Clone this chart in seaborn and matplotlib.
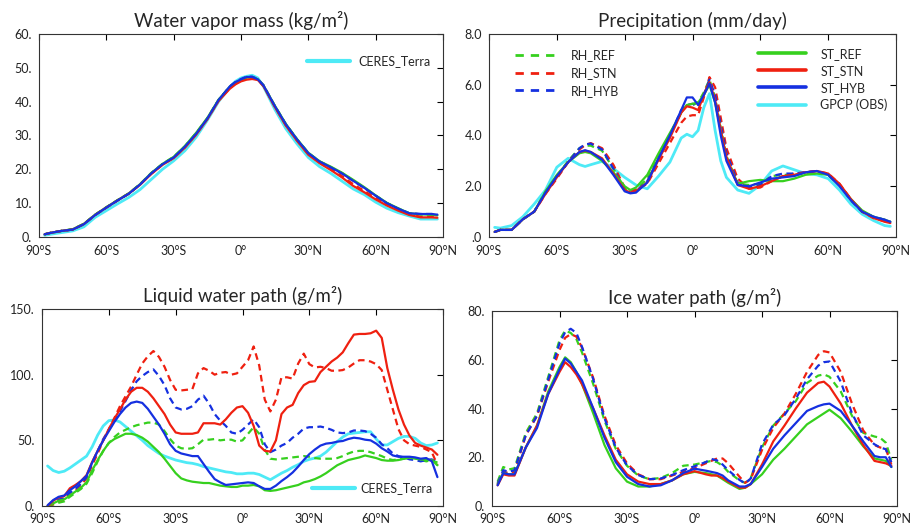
import matplotlib
matplotlib.use("Agg")
import matplotlib.pyplot as plt
from matplotlib.lines import Line2D
import seaborn as sns

sns.set_style("white")
plt.rcParams['font.family'] = ['Lato', 'DejaVu Sans']

GREEN = "#36d01e"
RED = "#ef2010"
BLUE = "#1530e0"
CYAN = "#4eeaf6"

# ---------------- water vapor mass (kg/m2) ----------------
lat_wv = [-87.5, -85, -80, -75, -70, -65, -60, -55, -50, -45, -40, -35, -30, -25, -20, -15, -10, -5, -2.5, 0,
          2.5, 5, 7.5, 10, 15, 20, 25, 30, 35, 40, 45, 50, 55, 60, 65, 70, 75, 80, 85, 87.5]
wv_st_ref = [0.8, 1.2, 1.8, 2.3, 3.9, 6.6, 8.8, 10.9, 12.9, 15.6, 18.9, 21.6, 23.7, 26.9, 30.8, 35.2, 40.6, 44.4, 45.6, 46.4,
             47.1, 47.2, 46.6, 44.8, 38.9, 33.4, 28.9, 24.9, 22.4, 20.8, 19.0, 16.9, 14.7, 12.3, 10.1, 8.5, 7.0, 6.7, 6.6, 6.4]
wv_st_stn = [0.8, 1.2, 1.8, 2.2, 3.8, 6.5, 8.7, 10.8, 12.8, 15.4, 18.6, 21.3, 23.3, 26.4, 30.2, 34.8, 40.2, 43.8, 45.1, 46.0,
             46.5, 46.7, 46.4, 44.6, 38.5, 32.9, 28.4, 24.3, 21.8, 19.8, 17.6, 15.1, 13.2, 11.1, 9.3, 7.8, 6.5, 5.8, 5.8, 5.7]
wv_st_hyb = [0.8, 1.2, 1.8, 2.2, 3.8, 6.5, 8.7, 10.8, 12.8, 15.5, 18.8, 21.5, 23.5, 26.7, 30.5, 35.0, 40.5, 44.5, 45.8, 46.6,
             47.3, 47.3, 46.6, 44.8, 38.8, 33.3, 28.8, 24.8, 22.3, 20.6, 18.8, 16.6, 14.5, 12.2, 10.0, 8.4, 7.0, 6.8, 6.8, 6.6]
wv_rh_ref = [0.8, 1.2, 1.8, 2.3, 3.9, 6.6, 8.8, 10.9, 12.9, 15.6, 18.9, 21.6, 23.7, 26.8, 30.7, 35.1, 40.5, 44.4, 45.7, 46.5,
             47.2, 47.2, 46.6, 44.8, 38.8, 33.3, 28.8, 24.8, 22.3, 20.6, 18.9, 16.7, 14.5, 12.2, 10.0, 8.4, 7.0, 6.7, 6.6, 6.4]
wv_rh_stn = [0.8, 1.2, 1.8, 2.2, 3.8, 6.5, 8.7, 10.8, 12.8, 15.5, 18.7, 21.4, 23.4, 26.5, 30.4, 34.9, 40.3, 44.0, 45.3, 46.2,
             46.8, 47.0, 46.5, 44.7, 38.6, 33.0, 28.5, 24.5, 22.0, 20.1, 18.0, 15.6, 13.6, 11.5, 9.6, 8.0, 6.7, 6.0, 6.0, 5.9]
wv_rh_hyb = [0.8, 1.2, 1.8, 2.2, 3.8, 6.5, 8.7, 10.8, 12.8, 15.5, 18.8, 21.5, 23.5, 26.7, 30.5, 35.0, 40.5, 44.5, 45.8, 46.7,
             47.4, 47.4, 46.7, 44.9, 38.8, 33.3, 28.8, 24.8, 22.3, 20.6, 18.8, 16.6, 14.5, 12.2, 10.0, 8.4, 7.0, 6.8, 6.8, 6.6]
wv_obs = [0.5, 0.8, 1.3, 1.8, 3.0, 5.8, 7.8, 9.8, 11.7, 14.0, 17.0, 20.0, 22.5, 25.5, 29.5, 34.5, 40.0, 44.3, 46.0, 47.0,
          47.5, 47.8, 47.0, 44.5, 37.8, 32.0, 27.5, 23.5, 20.8, 18.8, 16.5, 14.2, 12.5, 10.3, 8.5, 7.2, 6.2, 5.3, 5.3, 5.3]

# ---------------- precipitation (mm/day) ----------------
lat_pr = [-87.5, -85, -80, -75, -70, -65, -60, -55, -50, -47.5, -45, -40, -35, -30, -27.5, -25, -20, -15, -10, -5, -2.5,
          0, 2.5, 5, 7.5, 10, 12.5, 15, 20, 25, 30, 35, 40, 45, 50, 55, 60, 65, 70, 75, 80, 85, 87.5]
pr_st_ref = [0.2, 0.28, 0.28, 0.7, 1.0, 1.8, 2.45, 2.95, 3.3, 3.35, 3.3, 3.0, 2.55, 2.0, 1.85, 1.95, 2.45, 3.3, 4.1, 4.9, 5.2,
             5.25, 5.3, 5.6, 6.0, 5.3, 4.2, 3.1, 2.1, 2.2, 2.25, 2.2, 2.2, 2.3, 2.45, 2.5, 2.45, 2.05, 1.5, 1.05, 0.8, 0.68, 0.6]
pr_st_stn = [0.2, 0.28, 0.28, 0.7, 1.0, 1.7, 2.35, 2.95, 3.35, 3.4, 3.35, 3.1, 2.5, 1.85, 1.75, 1.8, 2.15, 3.05, 3.9, 4.9, 5.15,
             5.1, 5.0, 5.6, 6.1, 5.4, 4.2, 3.15, 2.05, 1.9, 2.0, 2.2, 2.4, 2.45, 2.55, 2.6, 2.5, 2.1, 1.5, 1.0, 0.75, 0.6, 0.55]
pr_st_hyb = [0.2, 0.28, 0.28, 0.7, 1.0, 1.75, 2.4, 2.95, 3.35, 3.42, 3.35, 3.05, 2.45, 1.8, 1.72, 1.75, 2.15, 3.1, 4.0, 5.0, 5.5,
             5.5, 5.2, 5.6, 6.05, 5.3, 4.0, 3.0, 2.05, 2.0, 2.15, 2.3, 2.35, 2.4, 2.55, 2.6, 2.45, 2.0, 1.45, 1.0, 0.8, 0.68, 0.6]
pr_rh_ref = [0.2, 0.28, 0.28, 0.7, 1.0, 1.8, 2.4, 3.0, 3.5, 3.6, 3.6, 3.4, 2.7, 1.9, 1.8, 1.85, 2.3, 3.2, 4.0, 4.9, 5.2,
             5.2, 5.3, 5.7, 6.2, 5.5, 4.3, 3.2, 2.1, 2.05, 2.1, 2.4, 2.45, 2.45, 2.5, 2.55, 2.45, 2.05, 1.45, 1.0, 0.78, 0.66, 0.58]
pr_rh_stn = [0.2, 0.28, 0.28, 0.7, 1.0, 1.7, 2.3, 2.95, 3.45, 3.62, 3.7, 3.5, 2.85, 1.95, 1.85, 1.85, 2.1, 2.9, 3.7, 4.5, 4.75,
             4.8, 4.8, 5.5, 6.3, 5.9, 4.7, 3.5, 2.3, 1.9, 1.95, 2.2, 2.4, 2.5, 2.55, 2.6, 2.5, 2.1, 1.5, 1.0, 0.75, 0.62, 0.55]
pr_rh_hyb = [0.2, 0.28, 0.28, 0.7, 1.0, 1.75, 2.35, 2.95, 3.5, 3.65, 3.68, 3.45, 2.7, 1.85, 1.75, 1.8, 2.2, 3.1, 4.0, 5.0, 5.2,
             5.25, 5.15, 5.6, 6.2, 5.6, 4.4, 3.3, 2.15, 1.95, 2.05, 2.4, 2.5, 2.5, 2.55, 2.6, 2.45, 2.05, 1.45, 1.0, 0.8, 0.68, 0.6]
pr_obs = [0.38, 0.35, 0.45, 0.8, 1.3, 1.85, 2.75, 3.1, 2.85, 2.78, 2.85, 2.98, 2.7, 2.35, 2.2, 2.05, 1.9, 2.4, 2.95, 3.9, 4.05,
          3.95, 4.2, 5.1, 5.65, 4.2, 3.0, 2.35, 1.85, 1.72, 2.05, 2.6, 2.8, 2.65, 2.5, 2.45, 2.3, 1.85, 1.3, 0.9, 0.65, 0.45, 0.42]

# ---------------- liquid water path (g/m2) ----------------
lat_lwp = [-87.5, -85, -82.5, -80, -77.5, -75, -72.5, -70, -67.5, -65, -62.5, -60, -57.5, -55, -52.5, -50, -47.5, -45,
           -42.5, -40, -37.5, -35, -32.5, -30, -27.5, -25, -22.5, -20, -17.5, -15, -12.5, -10, -7.5, -5, -2.5, 0,
           2.5, 5, 7.5, 10, 12.5, 15, 17.5, 20, 22.5, 25, 27.5, 30, 32.5, 35, 37.5, 40, 42.5, 45,
           47.5, 50, 52.5, 55, 57.5, 60, 62.5, 65, 67.5, 70, 72.5, 75, 77.5, 80, 82.5, 85, 87.5]
lwp_st_ref = [0, 2, 4, 5, 8, 11, 14, 18, 27, 35, 42, 48, 51, 53, 55, 55, 54, 52,
              49, 45, 41, 36, 30.5, 25, 21, 19.5, 18.5, 18, 17.5, 17.5, 16.5, 15.5, 15, 14.5, 14.5, 15.5,
              15.5, 16, 15, 12, 11.5, 12, 13, 14, 15, 16, 18, 19, 20.5, 22.5, 25, 28, 31, 33,
              35, 36, 37, 38.5, 37.5, 36.5, 35, 34.5, 34.5, 35, 36, 37, 36, 35.5, 35, 35, 31]
lwp_st_stn = [0, 4, 6.5, 7.5, 13.5, 16, 19, 23.5, 33.5, 42, 50, 58.5, 66.5, 73.5, 81, 87, 90, 90,
              87, 82, 76, 70, 62, 56, 55, 55, 55, 56, 63, 63, 63, 62, 66, 71, 75, 76,
              71, 61, 46, 42, 41.5, 50, 70, 75, 77, 86, 92, 94.5, 95, 102, 106, 110, 113, 117,
              124, 130.5, 131, 131, 131.5, 133.5, 128, 105, 88.5, 73.5, 62, 53.5, 48, 46, 44.5, 43, 39]
lwp_st_hyb = [0.5, 4.5, 7, 8, 12, 15, 19, 23, 33, 42, 50, 57, 64, 70, 75, 78.5, 79.5, 78.5,
              74, 68, 62, 55, 47, 42, 40, 39, 38, 38, 32, 26, 20.5, 18, 16, 16.5, 17, 17.5,
              18, 17.5, 15, 13, 13, 15.5, 19, 22, 25.5, 30, 35, 39.5, 43, 46, 47.5, 48, 49, 49.5,
              51, 52, 51.5, 50.5, 50, 47.5, 44, 41.5, 38.5, 37.5, 37.5, 37.5, 37, 36, 36.5, 34, 22]
lwp_rh_ref = [0, 1, 2.5, 3.5, 7, 10, 13, 17, 25, 34, 42, 48, 52.5, 56, 58, 60, 61.5, 62.5,
              63.5, 63.5, 62, 57, 51, 46, 44, 43.5, 44, 47, 50.5, 50.5, 51, 50, 50.5, 50.5, 49, 50,
              55, 60, 55, 43, 36, 35.5, 36, 36.5, 37, 37.5, 38, 37.5, 36.5, 36, 36, 36, 36.5, 38,
              40, 41.5, 42, 42, 41, 39.5, 38, 36, 35, 35.5, 36, 37, 36.5, 35, 34, 35, 33]
lwp_rh_stn = [0, 1.5, 4, 5, 10, 12, 16, 21, 31, 40, 50, 58.5, 67, 76, 83.5, 91, 100, 108.5,
              114, 118, 113.5, 106, 96, 88.5, 88, 88.5, 89, 101, 105, 103, 100, 101.5, 102, 100, 101, 106,
              111, 121.5, 107, 81, 72, 81, 98, 98, 97, 108.5, 116, 108, 105.5, 106, 105, 103, 103, 103.5,
              105.5, 108.5, 111, 111, 110, 108, 103.5, 88.5, 73.5, 58.5, 50, 47, 46, 45, 43, 41, 31]
lwp_rh_hyb = [0.5, 3, 5, 6, 10, 13, 17, 22, 33, 42, 51, 58, 65, 72, 80, 88, 95, 99,
              102, 104, 99, 92, 82, 75, 73.5, 74, 76, 81, 84, 78, 70, 65, 61, 56, 55, 58,
              62, 66, 60, 47, 41, 43, 46, 48, 52, 55, 59, 60, 60, 60.5, 59.5, 58, 56, 55.5,
              56, 57.5, 57.5, 57, 55, 52, 47, 44, 40, 38, 37, 35.5, 35, 34, 35, 35.5, 32]
lwp_obs = [30.5, 27, 25.5, 26.5, 29, 32, 35, 38, 45, 54, 61, 65, 65.5, 64, 60.5, 57, 53.5, 50,
           46, 43, 40, 38, 36.5, 35, 34, 33, 32.5, 31.5, 30, 29, 28, 27, 26, 25.5, 24.5, 24.5,
           25, 25, 24, 22, 20, 22.5, 25, 27, 29.5, 31.5, 34, 35.5, 36.5, 38, 41, 45, 49, 52.5,
           55, 55.5, 56, 56.5, 56.5, 51, 46.5, 46.5, 49, 51.5, 53, 53, 51.5, 48, 46, 46.5, 48]

# ---------------- ice water path (g/m2) ----------------
lat_iwp = [-87.5, -85, -82.5, -80, -75, -70, -65, -60, -57.5, -55, -52.5, -50, -45, -40, -35, -30, -25, -20, -15,
           -10, -5, 0, 5, 7.5, 10, 12.5, 15, 20, 22.5, 25, 30, 35, 40, 45, 50, 55, 57.5, 60, 65, 70, 75, 80,
           82.5, 85, 87.5]
iwp_st_ref = [9, 13.5, 13, 13, 24, 33, 47, 57, 61, 59, 55, 50, 38, 25, 15.5, 10, 8, 8, 9,
              10.5, 13, 14, 13.5, 13, 12.5, 11, 9.5, 7, 7.5, 9, 13, 19, 23.5, 28.5, 33.5, 36.5, 38, 39.5, 36, 30.5, 24.5, 19.5,
              19, 18.5, 16]
iwp_st_stn = [8.5, 13, 12.5, 12.5, 24, 33, 46, 55, 59, 57, 54, 50, 40, 29, 19, 13, 10, 9, 9,
              10.5, 13, 14.3, 13, 12.5, 12.5, 11.5, 10, 7.5, 7.5, 9, 17, 26.5, 33, 40, 46.5, 50.5, 51, 49, 42, 33, 25, 18.5,
              18, 17.5, 16.5]
iwp_st_hyb = [8.5, 13.5, 13, 13, 24, 32, 46, 56, 60.5, 58.5, 55, 51.5, 40, 28, 18, 12, 9, 8, 8.5,
              10.5, 13.5, 15.3, 14.5, 14, 13.5, 12.5, 10.5, 8, 8, 9, 16, 23.5, 29, 34, 39, 41, 41.7, 42, 39, 33, 26.5, 20.5,
              20, 20, 16]
iwp_rh_ref = [10, 16, 15, 15.5, 30, 38, 53, 68, 72, 71, 68.5, 63, 50, 35, 23.5, 16.5, 12.5, 11, 11.5,
              13.5, 16.5, 17, 18, 18.5, 18, 16.5, 14, 10.5, 9.5, 11.5, 24, 33, 38, 43, 50.5, 53.5, 54, 53, 47, 37, 30, 28.5,
              28, 26, 19]
iwp_rh_stn = [9, 14, 13.5, 14, 29, 37, 51, 64, 69, 70.5, 69.5, 65, 52.5, 37, 25, 17.5, 13, 11, 11,
              12.5, 14, 15.5, 17.5, 18.5, 19.5, 19.5, 17.5, 12, 9.5, 11, 23, 32, 38, 46, 55, 62, 63.5, 63, 55, 42, 31, 25,
              24, 23.5, 17]
iwp_rh_hyb = [9.3, 14.7, 14, 14.7, 29, 37, 52, 66.7, 71.3, 72.7, 71, 65.3, 52, 36, 24, 16.7, 12.7, 11, 11.3,
              12.7, 14.7, 16.3, 18, 19.3, 18.7, 17, 14.7, 10.7, 9.3, 11.3, 25.3, 33.3, 37.3, 44, 52, 57.6, 59, 59.3, 51, 38, 29, 25.3,
              24, 23.3, 18]

xticks = [-90, -60, -30, 0, 30, 60, 90]
xlabels = ["90°S", "60°S", "30°S", "0°", "30°N", "60°N", "90°N"]

DASH = (0, (3, 2))
LW = 1.6


def draw_models(ax, lat, rh_ref, rh_stn, rh_hyb, st_ref, st_stn, st_hyb):
    sns.lineplot(x=lat, y=rh_ref, ax=ax, color=GREEN, lw=LW, linestyle=DASH)
    sns.lineplot(x=lat, y=rh_stn, ax=ax, color=RED, lw=LW, linestyle=DASH)
    sns.lineplot(x=lat, y=rh_hyb, ax=ax, color=BLUE, lw=LW, linestyle=DASH)
    sns.lineplot(x=lat, y=st_ref, ax=ax, color=GREEN, lw=LW)
    sns.lineplot(x=lat, y=st_stn, ax=ax, color=RED, lw=LW)
    sns.lineplot(x=lat, y=st_hyb, ax=ax, color=BLUE, lw=LW)


def style(ax, title, ymax, ystep, ylabels, xpad=6):
    ax.set_xlim(-90, 90)
    ax.set_ylim(0, ymax)
    ax.set_xticks(xticks)
    ax.set_xticklabels(xlabels)
    yt = [i * ystep for i in range(len(ylabels))]
    ax.set_yticks(yt)
    ax.set_yticklabels(ylabels)
    ax.tick_params(direction='in', length=4, width=0.8, top=True, right=True,
                   labelsize=9, pad=5, colors='black', labelcolor='#222222')
    ax.tick_params(axis='x', pad=xpad)
    for s in ax.spines.values():
        s.set_linewidth(0.8)
        s.set_color('#333333')
    ax.set_title(title, fontsize=13.5, pad=5)
    ax.set_xlabel("")
    ax.set_ylabel("")


fig = plt.figure(figsize=(9.14, 5.27), dpi=100)
ax1 = fig.add_axes([39 / 914, 1 - 237 / 527, 404 / 914, 203 / 527])
ax2 = fig.add_axes([489 / 914, 1 - 237 / 527, 407 / 914, 203 / 527])
ax3 = fig.add_axes([42 / 914, 1 - 506 / 527, 401 / 914, 197 / 527])
ax4 = fig.add_axes([492 / 914, 1 - 506 / 527, 405 / 914, 195 / 527])

# water vapor
sns.lineplot(x=lat_wv, y=wv_obs, ax=ax1, color=CYAN, lw=2.0)
draw_models(ax1, lat_wv, wv_rh_ref, wv_rh_stn, wv_rh_hyb, wv_st_ref, wv_st_stn, wv_st_hyb)
style(ax1, "Water vapor mass (kg/m²)", 60, 10, ["0.", "10.", "20.", "30.", "40.", "50.", "60."])
ax1.legend(handles=[Line2D([], [], color=CYAN, lw=3)], labels=["CERES_Terra"],
           loc='center left', bbox_to_anchor=((307 - 39) / 404, 1 - (61 - 34) / 203),
           frameon=False, fontsize=9, handlelength=3.4, handletextpad=0.7,
           borderpad=0, borderaxespad=0)

# precipitation
sns.lineplot(x=lat_pr, y=pr_obs, ax=ax2, color=CYAN, lw=2.0)
draw_models(ax2, lat_pr, pr_rh_ref, pr_rh_stn, pr_rh_hyb, pr_st_ref, pr_st_stn, pr_st_hyb)
style(ax2, "Precipitation (mm/day)", 8, 2, [".0", "2.0", "4.0", "6.0", "8.0"])
leg_rh = ax2.legend(handles=[Line2D([], [], color=c, lw=2, linestyle=(0, (3, 2.5))) for c in (GREEN, RED, BLUE)],
                    labels=["RH_REF", "RH_STN", "RH_HYB"],
                    loc='center left', bbox_to_anchor=((515 - 489) / 407, 1 - (73 - 34) / 203),
                    frameon=False, fontsize=9, handlelength=3.4, handletextpad=1.1,
                    labelspacing=0.45, borderpad=0, borderaxespad=0)
ax2.add_artist(leg_rh)
ax2.legend(handles=[Line2D([], [], color=c, lw=2.6) for c in (GREEN, RED, BLUE, CYAN)],
           labels=["ST_REF", "ST_STN", "ST_HYB", "GPCP (OBS)"],
           loc='center left', bbox_to_anchor=((758 - 489) / 407, 1 - (79.5 - 34) / 203),
           frameon=False, fontsize=9, handlelength=3.8, handletextpad=1.2,
           labelspacing=0.4, borderpad=0, borderaxespad=0)

# liquid water path
sns.lineplot(x=lat_lwp, y=lwp_obs, ax=ax3, color=CYAN, lw=2.0)
draw_models(ax3, lat_lwp, lwp_rh_ref, lwp_rh_stn, lwp_rh_hyb, lwp_st_ref, lwp_st_stn, lwp_st_hyb)
style(ax3, "Liquid water path (g/m²)", 150, 50, ["0.", "50.", "100.", "150."], xpad=5)
ax3.legend(handles=[Line2D([], [], color=CYAN, lw=3)], labels=["CERES_Terra"],
           loc='center left', bbox_to_anchor=((312 - 42) / 401, 1 - (488 - 309) / 197),
           frameon=False, fontsize=9, handlelength=3.4, handletextpad=0.5,
           borderpad=0, borderaxespad=0)

# ice water path
draw_models(ax4, lat_iwp, iwp_rh_ref, iwp_rh_stn, iwp_rh_hyb, iwp_st_ref, iwp_st_stn, iwp_st_hyb)
style(ax4, "Ice water path (g/m²)", 80, 20, ["0.", "20.", "40.", "60.", "80."], xpad=5)

fig.savefig("out.png", dpi=100)
